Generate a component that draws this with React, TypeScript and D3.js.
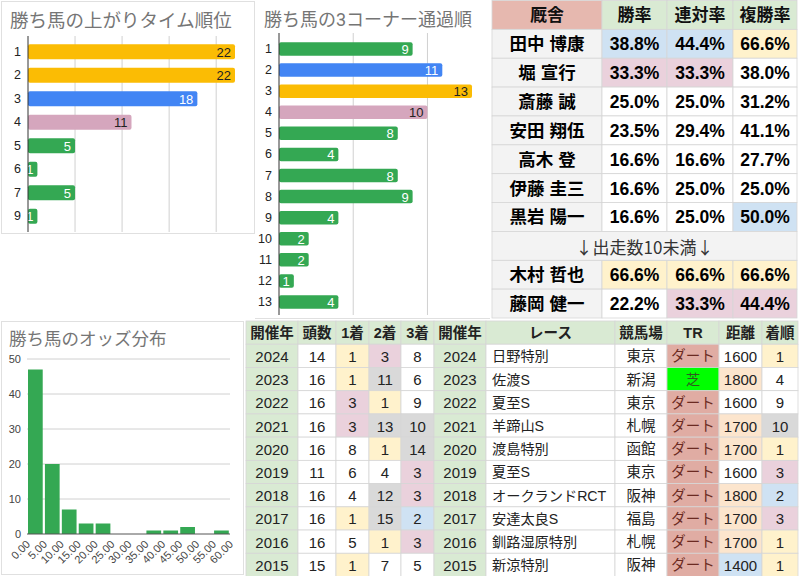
import * as d3 from "d3";

const paceRanks = ["1", "2", "3", "4", "5", "6", "7", "9"];
const paceCounts = [22, 22, 18, 11, 5, 1, 5, 1];

const cornerRanks = ["1", "2", "3", "4", "5", "6", "7", "8", "9", "10", "11", "12", "13"];
const cornerCounts = [9, 11, 13, 10, 8, 4, 8, 9, 4, 2, 2, 1, 4];

const oddsEdges = [0, 5, 10, 15, 20, 25, 30, 35, 40, 45, 50, 55, 60];
const oddsCounts = [47, 20, 7, 3, 3, 0, 0, 1, 1, 2, 0, 1];
const oddsTicks = [0, 10, 20, 30, 40, 50];

const trainerHeaders = ["厩舎", "勝率", "連対率", "複勝率"];
const trainers = ["田中 博康", "堀 宣行", "斎藤 誠", "安田 翔伍", "高木 登", "伊藤 圭三", "黒岩 陽一", "木村 哲也", "藤岡 健一"];
const winRates = [38.8, 33.3, 25.0, 23.5, 16.6, 16.6, 16.6, 66.6, 22.2];
const top2Rates = [44.4, 33.3, 25.0, 29.4, 16.6, 25.0, 25.0, 66.6, 33.3];
const top3Rates = [66.6, 38.0, 31.2, 41.1, 27.7, 25.0, 50.0, 66.6, 44.4];
const separatorLabel = "↓出走数10未満↓";
const separatorAfter = 7;

const resultHeaders = ["開催年", "頭数", "1着", "2着", "3着"];
const years = [2024, 2023, 2022, 2021, 2020, 2019, 2018, 2017, 2016, 2015];
const runners = [14, 16, 16, 16, 16, 11, 16, 16, 16, 15];
const firstPlace = [1, 1, 3, 3, 8, 6, 4, 1, 5, 1];
const secondPlace = [3, 11, 1, 13, 1, 4, 12, 15, 1, 7];
const thirdPlace = [8, 6, 9, 10, 14, 3, 3, 2, 3, 5];

const raceHeaders = ["開催年", "レース", "競馬場", "TR", "距離", "着順"];
const races = ["日野特別", "佐渡S", "夏至S", "羊蹄山S", "渡島特別", "夏至S", "オークランドRCT", "安達太良S", "釧路湿原特別", "新涼特別"];
const tracks = ["東京", "新潟", "東京", "札幌", "函館", "東京", "阪神", "福島", "札幌", "阪神"];
const surfaces = ["ダート", "芝", "ダート", "ダート", "ダート", "ダート", "ダート", "ダート", "ダート", "ダート"];
const distances = [1600, 1800, 1600, 1700, 1700, 1600, 1800, 1700, 1700, 1400];
const finishes = [1, 4, 9, 10, 1, 3, 2, 3, 1, 1];

const FONT = "'Liberation Sans', Arial, 'Noto Sans CJK JP', sans-serif";
const CJK_FONT = "'Noto Sans CJK JP', sans-serif";
const TITLE_FONT = "Roboto, 'Noto Sans CJK JP', sans-serif";
const ORANGE = "#fbbc04", BLUE = "#4285f4", PINK = "#d5a6bd", GREEN = "#34a853";
const C_YELLOW = "#fff2cc", C_BLUE = "#cfe2f3", C_PINK = "#ead1dc", C_GRAY = "#d9d9d9";
const HEAD_GREEN = "#d9ead3", LINE = "#d6d6d6";

function rankFill(values: number[], v: number, fills: string[]) {
    const distinct = Array.from(new Set(values)).sort((a, b) => b - a);
    const i = distinct.indexOf(v);
    return i >= 0 && i < fills.length ? fills[i] : null;
}

function placeFill(v: number) {
    if (v === 1) return C_YELLOW;
    if (v === 2) return C_BLUE;
    if (v === 3) return C_PINK;
    if (v >= 10) return C_GRAY;
    return "#fff";
}

function distanceFill(v: number) {
    if (v <= 1400) return C_BLUE;
    if (v >= 1700) return "#fce5cd";
    return "#fff";
}

function HBar({ ranks, counts, title, titleX, titleY, titleSize, x0, x1, y0, y1, axisTop, axisBottom, grid }: any) {
    const x = d3.scaleLinear().domain([0, d3.max(counts as number[])!]).range([x0, x1]);
    const y = d3.scaleBand<string>().domain(ranks).range([y0, y1]).paddingInner(0.36).paddingOuter(0.18);
    const barFills = [ORANGE, BLUE, PINK];
    return (
        <g>
            <text x={titleX} y={titleY} fontFamily={TITLE_FONT} fontSize={titleSize} fill="#757575">{title}</text>
            {grid.map((t: number) => (
                <line key={t} x1={x(t)} x2={x(t)} y1={axisTop} y2={axisBottom} stroke="#d0d0d0" strokeWidth={1} />
            ))}
            {ranks.map((r: string, i: number) => {
                const v = counts[i];
                const fill = rankFill(counts, v, barFills) || GREEN;
                const dark = fill === ORANGE || fill === PINK;
                const cy = y(r)! + y.bandwidth() / 2;
                return (
                    <g key={r}>
                        <text x={x0 - 7} y={cy} textAnchor="end" dominantBaseline="central" fontFamily={FONT} fontSize={12.5} fill="#222">{r}</text>
                        <rect x={x0} y={y(r)} width={x(v) - x0} height={y.bandwidth()} rx={2} fill={fill} />
                        <text x={x(v) - 4} y={cy + 0.5} textAnchor="end" dominantBaseline="central" fontFamily={FONT} fontSize={13} fill={dark ? "#222" : "#fff"}>{v}</text>
                    </g>
                );
            })}
            <line x1={x0} x2={x0} y1={axisTop} y2={axisBottom} stroke="#333" strokeWidth={1} />
        </g>
    );
}

function Histogram() {
    const x = d3.scaleLinear().domain([0, 60]).range([27, 230]);
    const y = d3.scaleLinear().domain([0, 50]).range([534, 359]);
    return (
        <g>
            <rect x={1.5} y={321.5} width={242} height={253} fill="none" stroke="#e0e0e0" />
            <text x={9} y={345} fontFamily={TITLE_FONT} fontSize={17.5} fill="#757575">勝ち馬のオッズ分布</text>
            {oddsTicks.map((t) => (
                <g key={t}>
                    {t > 0 && <line x1={x(0)} x2={x(60)} y1={y(t)} y2={y(t)} stroke="#d0d0d0" />}
                    <text x={21} y={y(t)} textAnchor="end" dominantBaseline="central" fontFamily={FONT} fontSize={11} fill="#444">{t}</text>
                </g>
            ))}
            {oddsCounts.map((c, i) => (
                <rect key={i} x={x(oddsEdges[i]) + 1} y={y(c)} width={x(oddsEdges[i + 1]) - x(oddsEdges[i]) - 2.2} height={y(0) - y(c)} fill={GREEN} />
            ))}
            <line x1={x(0)} x2={x(60)} y1={y(0)} y2={y(0)} stroke="#555" />
            {oddsEdges.map((e) => (
                <text key={e} transform={`translate(${x(e) + 1},${y(0) + 8}) rotate(-45)`} textAnchor="end" dominantBaseline="central" fontFamily={FONT} fontSize={11} fill="#444">{e.toFixed(2)}</text>
            ))}
        </g>
    );
}

function Cell({ x, y, w, h, fill, text, anchor = "middle", bold = false, size = 15, color = "#222", family = FONT }: any) {
    const tx = anchor === "middle" ? x + w / 2 : x + 6;
    return (
        <g>
            <rect x={x} y={y} width={w} height={h} fill={fill} stroke={LINE} strokeWidth={0.8} />
            <text x={tx} y={y + h / 2 + 0.5} textAnchor={anchor} dominantBaseline="central" fontFamily={family} fontSize={size} fontWeight={bold ? "bold" : "normal"} fill={color}>{text}</text>
        </g>
    );
}

function TrainerTable() {
    const cols = [492, 602, 667, 733, 797];
    const rowCount = trainers.length + 2;
    const row = d3.scaleBand<number>().domain(d3.range(rowCount)).range([0.5, 318]);
    const h = row.bandwidth();
    const columns = [winRates, top2Rates, top3Rates];
    const fills = [C_YELLOW, C_BLUE, C_PINK];
    const cells: any[] = [];
    trainerHeaders.forEach((t, j) => {
        cells.push(<Cell key={"h" + j} x={cols[j]} y={row(0)} w={cols[j + 1] - cols[j]} h={h} fill={j === 0 ? "#e6b8af" : HEAD_GREEN} text={t} bold size={17} color="#111" />);
    });
    trainers.forEach((name, i) => {
        const r = i < separatorAfter ? i + 1 : i + 2;
        cells.push(<Cell key={"n" + i} x={cols[0]} y={row(r)} w={cols[1] - cols[0]} h={h} fill="#f3f3f3" text={name} bold size={17.5} color="#000" />);
        columns.forEach((vals, j) => {
            const f = rankFill(vals, vals[i], fills) || "#fff";
            cells.push(<Cell key={"v" + i + "-" + j} x={cols[j + 1]} y={row(r)} w={cols[j + 2] - cols[j + 1]} h={h} fill={f} text={vals[i].toFixed(1) + "%"} bold size={17.5} color="#000" />);
        });
    });
    cells.push(<Cell key="sep" x={cols[0]} y={row(separatorAfter + 1)} w={cols[4] - cols[0]} h={h} fill="#f3f3f3" text={separatorLabel} size={17} color="#333" family={CJK_FONT} />);
    return <g>{cells}</g>;
}

function ResultTable() {
    const cols = [246, 298, 336, 369, 401, 434];
    const row = d3.scaleBand<number>().domain(d3.range(years.length + 1)).range([321, 576.5]);
    const h = row.bandwidth();
    const cells: any[] = [];
    resultHeaders.forEach((t, j) => {
        cells.push(<Cell key={"h" + j} x={cols[j]} y={row(0)} w={cols[j + 1] - cols[j]} h={h} fill={HEAD_GREEN} text={t} bold size={14.5} color="#222" />);
    });
    years.forEach((yr, i) => {
        const vals = [yr, runners[i], firstPlace[i], secondPlace[i], thirdPlace[i]];
        vals.forEach((v, j) => {
            const fill = j === 0 ? HEAD_GREEN : j === 1 ? "#fff" : placeFill(v);
            cells.push(<Cell key={i + "-" + j} x={cols[j]} y={row(i + 1)} w={cols[j + 1] - cols[j]} h={h} fill={fill} text={v} size={15} />);
        });
    });
    return <g>{cells}</g>;
}

function RaceTable() {
    const cols = [434, 486, 615, 667, 719, 762, 798];
    const row = d3.scaleBand<number>().domain(d3.range(years.length + 1)).range([321, 576.5]);
    const h = row.bandwidth();
    const cells: any[] = [];
    raceHeaders.forEach((t, j) => {
        cells.push(<Cell key={"h" + j} x={cols[j]} y={row(0)} w={cols[j + 1] - cols[j]} h={h} fill={HEAD_GREEN} text={t} bold size={14.5} color="#222" />);
    });
    years.forEach((yr, i) => {
        const y = row(i + 1);
        const w = (j: number) => cols[j + 1] - cols[j];
        const dirt = surfaces[i] === "ダート";
        cells.push(<Cell key={i + "-0"} x={cols[0]} y={y} w={w(0)} h={h} fill={HEAD_GREEN} text={yr} size={15} />);
        cells.push(<Cell key={i + "-1"} x={cols[1]} y={y} w={w(1)} h={h} fill="#fff" text={races[i]} anchor="start" size={14.2} />);
        cells.push(<Cell key={i + "-2"} x={cols[2]} y={y} w={w(2)} h={h} fill="#fff" text={tracks[i]} size={14.5} />);
        cells.push(<Cell key={i + "-3"} x={cols[3]} y={y} w={w(3)} h={h} fill={dirt ? "#e0aca3" : "#00ff00"} text={surfaces[i]} size={14.5} color={dirt ? "#6b2a22" : "#2f5a20"} />);
        cells.push(<Cell key={i + "-4"} x={cols[4]} y={y} w={w(4)} h={h} fill={distanceFill(distances[i])} text={distances[i]} size={15} />);
        cells.push(<Cell key={i + "-5"} x={cols[5]} y={y} w={w(5)} h={h} fill={placeFill(finishes[i])} text={finishes[i]} size={15} />);
    });
    return <g>{cells}</g>;
}

export default function App() {
    return (
        <svg width={800} height={576} style={{ position: "absolute", left: 0, top: 0, background: "#fff" }}>
            <rect x={1.5} y={1.5} width={253} height={232} fill="none" stroke="#e0e0e0" />
            <line x1={255} x2={490} y1={318.5} y2={318.5} stroke="#e0e0e0" />
            <HBar ranks={paceRanks} counts={paceCounts} title="勝ち馬の上がりタイム順位" titleX={10} titleY={27} titleSize={18.5}
                x0={28} x1={235} y0={40} y1={228} axisTop={36} axisBottom={232} grid={[5, 10, 15, 20]} />
            <HBar ranks={cornerRanks} counts={cornerCounts} title="勝ち馬の3コーナー通過順" titleX={264} titleY={26} titleSize={18}
                x0={279} x1={472} y0={38.5} y1={312.5} axisTop={33} axisBottom={315} grid={[5, 10]} />
            <TrainerTable />
            <Histogram />
            <ResultTable />
            <RaceTable />
        </svg>
    );
}
